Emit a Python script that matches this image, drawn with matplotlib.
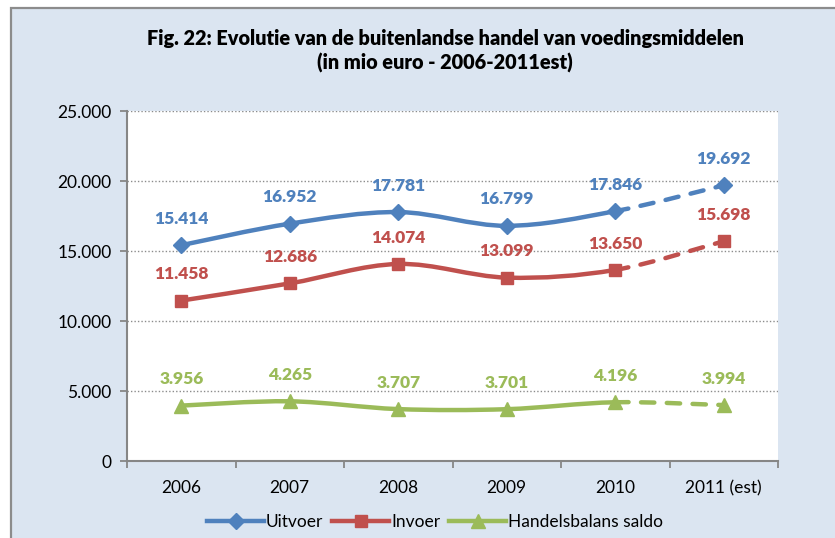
import matplotlib
matplotlib.use('Agg')
import matplotlib.pyplot as plt
from matplotlib.path import Path
from matplotlib.patches import PathPatch, Rectangle
from matplotlib.lines import Line2D
from matplotlib.ticker import FuncFormatter

years = ['2006', '2007', '2008', '2009', '2010', '2011 (est)']
uitvoer = [15414, 16952, 17781, 16799, 17846, 19692]
invoer = [11458, 12686, 14074, 13099, 13650, 15698]
saldo = [3956, 4265, 3707, 3701, 4196, 3994]

BLUE = '#4F81BD'
RED = '#C0504D'
GREEN = '#9BBB59'
BG = '#DBE5F1'
FONT = 'Lato'

plt.rcParams['font.family'] = FONT


def dots(v):
    return f'{int(v):,}'.replace(',', '.')


def bezier_segments(xs, ys):
    # excel style smoothing: catmull-rom turned into cubic beziers
    segs = []
    n = len(xs)
    for i in range(n - 1):
        x0, y0 = (xs[i - 1], ys[i - 1]) if i > 0 else (xs[i], ys[i])
        x3, y3 = (xs[i + 2], ys[i + 2]) if i + 2 < n else (xs[i + 1], ys[i + 1])
        x1, y1 = xs[i], ys[i]
        x2, y2 = xs[i + 1], ys[i + 1]
        c1 = (x1 + (x2 - x0) / 6, y1 + (y2 - y0) / 6)
        c2 = (x2 - (x3 - x1) / 6, y2 - (y3 - y1) / 6)
        segs.append([(x1, y1), c1, c2, (x2, y2)])
    return segs


fig = plt.figure(figsize=(8.35, 5.38), dpi=100)
fig.patch.set_facecolor('white')
fig.patches.append(Rectangle((11 / 835, -0.05), 1.0, 1 - 8 / 538 + 0.05,
                             transform=fig.transFigure, facecolor=BG,
                             edgecolor='#8C8C8C', linewidth=1.6, zorder=-1))

ax = fig.add_axes([127 / 835, 1 - 461 / 538, 651 / 835, 350 / 538])
ax.set_facecolor('white')

x = list(range(len(years)))
series = [(uitvoer, BLUE, 'D', 8.5, 'Uitvoer'),
          (invoer, RED, 's', 8.5, 'Invoer'),
          (saldo, GREEN, '^', 9.5, 'Handelsbalans saldo')]

for vals, col, mk, ms, name in series:
    segs = bezier_segments(x, vals)
    codes = [Path.MOVETO, Path.CURVE4, Path.CURVE4, Path.CURVE4]
    verts, cds = [], []
    for s in segs[:-1]:
        if not verts:
            verts += s
            cds += codes
        else:
            verts += s[1:]
            cds += codes[1:]
    ax.add_patch(PathPatch(Path(verts, cds), fill=False, edgecolor=col,
                           linewidth=3.2, capstyle='round', joinstyle='round', zorder=3))
    ax.add_patch(PathPatch(Path(segs[-1], codes), fill=False, edgecolor=col,
                           linewidth=3.2, linestyle=(0, (3.0, 2.8)),
                           capstyle='round', zorder=3))
    ax.plot(x, vals, linestyle='none', marker=mk, markersize=ms, color=col, zorder=4)
    for xi, v in zip(x, vals):
        ax.annotate(dots(v), (xi, v), xytext=(0, 19), textcoords='offset points',
                    ha='center', va='center', color=col, fontsize=12.5,
                    fontweight='heavy', zorder=5)

ax.set_xlim(-0.5, len(years) - 0.5)
ax.set_ylim(0, 25000)
ax.set_yticks(range(0, 25001, 5000))
ax.yaxis.set_major_formatter(FuncFormatter(lambda v, p: dots(v)))
ax.set_xticks([i - 0.5 for i in range(len(years) + 1)])
ax.set_xticklabels([])
ax.set_xticks(x, minor=True)
ax.set_xticklabels(years, minor=True)
ax.tick_params(axis='x', which='major', length=5, width=1.3, color='#868686', direction='out')
ax.tick_params(axis='x', which='minor', length=0, pad=14, labelsize=12.5)
ax.tick_params(axis='y', length=5, width=1.3, color='#868686', direction='out', labelsize=12.5, pad=6)

for s in ['top', 'right']:
    ax.spines[s].set_visible(False)
for s in ['left', 'bottom']:
    ax.spines[s].set_color('#868686')
    ax.spines[s].set_linewidth(1.5)

ax.grid(axis='y', linestyle=(0, (1, 1.5)), color='#8C8C8C', linewidth=1)
ax.set_axisbelow(True)

fig.text(0.533, 1 - 38 / 538, 'Fig. 22: Evolutie van de buitenlandse handel van voedingsmiddelen',
         ha='center', va='center', fontsize=14.3, fontweight='heavy')
fig.text(0.533, 1 - 63 / 538, '(in mio euro - 2006-2011est)',
         ha='center', va='center', fontsize=14.3, fontweight='heavy')

handles = [Line2D([], [], color=c, marker=m, markersize=ms, linewidth=3.2, label=n)
           for _, c, m, ms, n in series]
fig.legend(handles=handles, loc='center', bbox_to_anchor=(435 / 835, 1 - 522 / 538),
           ncol=3, frameon=False, fontsize=12.5, handlelength=3.3, handletextpad=0.1,
           columnspacing=0.5)

fig.savefig('out.png', dpi=100)
